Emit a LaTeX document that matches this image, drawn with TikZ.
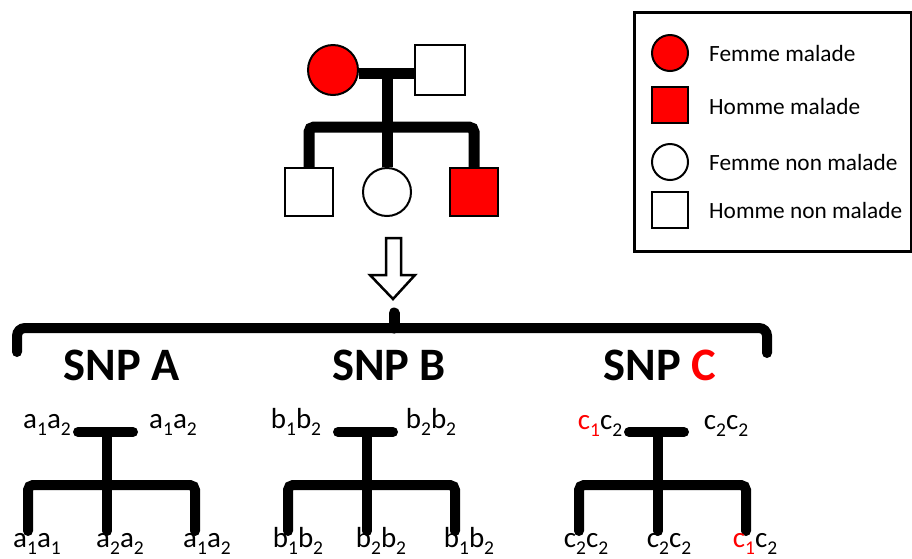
\documentclass[tikz,border=0pt]{standalone}
\usepackage{fontspec}
\setmainfont{Carlito}
\newcommand\sbs[1]{\raisebox{-0.25em}{\fontsize{19.5}{20}\selectfont #1}}
\begin{document}
\begin{tikzpicture}[x=1pt,y=-1pt,
  pedline/.style={line width=11pt,line cap=butt,rounded corners=5pt},
  smline/.style={line width=10pt,line cap=round,rounded corners=5pt},
  fem/.style={circle,draw,line width=2pt,minimum size=48pt,inner sep=0pt},
  mal/.style={rectangle,draw,line width=2pt,minimum size=48pt,inner sep=0pt},
  lfem/.style={circle,draw,line width=2pt,minimum size=36pt,inner sep=0pt},
  lmal/.style={rectangle,draw,line width=2pt,minimum size=36pt,inner sep=0pt},
  ill/.style={fill=red},
  legtext/.style={anchor=base west,inner sep=0pt,font=\fontsize{23.3}{25}\selectfont},
  snp/.style={anchor=base,inner sep=0pt,font=\fontsize{46.5}{48}\selectfont\bfseries},
  geno/.style={anchor=base,inner sep=0pt,font=\fontsize{29}{30}\selectfont}]
\useasboundingbox (0,0) rectangle (912,558);

% ---------- main pedigree ----------
\node[fem,ill,minimum size=50pt] (mother) at (333,70) {};
\node[mal,minimum size=50pt] (father) at (440,70) {};
\node[mal] (kid1) at (309,192) {};
\node[fem] (kid2) at (387,192) {};
\node[mal,ill] (kid3) at (474,192) {};
\coordinate (mm) at (387,73);
\coordinate (sib) at (387,127);
\draw[pedline] ([yshift=-3pt]mother.east) -- ([yshift=-3pt]father.west);
\draw[pedline] (mm) -- (kid2.north);
\draw[pedline] (kid1.north) -- (kid1.north |- sib) -- (kid3.north |- sib) -- (kid3.north);

% ---------- legend ----------
\node[draw,line width=3pt,minimum width=277pt,minimum height=239pt,anchor=north west] (legend) at (633,11) {};
\node[lfem,ill] (l1) at (670,53) {};
\node[lmal,ill] (l2) at (670,105) {};
\node[lfem] (l3) at (670,162) {};
\node[lmal] (l4) at (670,210) {};
\node[legtext] (t1) at (709,61) {Femme malade};
\node[legtext] (t2) at (709,114) {Homme malade};
\node[legtext] (t3) at (709,170) {Femme non malade};
\node[legtext] (t4) at (709,218) {Homme non malade};

% ---------- hollow arrow ----------
\coordinate (arrtip) at (393,299);
\draw[line width=2.5pt,fill=white,line join=miter]
  (386,238) -- (401,238) -- (401,275) -- (415,275) -- (arrtip) -- (370,275) -- (386,275) -- cycle;

% ---------- bracket ----------
\coordinate (brl) at (17,352);
\coordinate (brr) at (767,353);
\coordinate (brm) at (394,313);
\draw[line width=10pt,line cap=round,rounded corners=8pt]
  (brl) -- (17,328) -- (767,328) -- (brr);
\draw[line width=11pt,line cap=round] (394,328) -- (brm);

% ---------- SNP titles ----------
\node[snp] (snpA) at (122,380) {SNP A};
\node[snp] (snpB) at (389,380) {SNP B};
\node[snp] (snpC) at (660,380) {SNP \textcolor{red}{C}};

% ---------- small pedigrees ----------
\foreach \dx/\p in {0/A,260/B,551/C}{
  \begin{scope}[xshift=\dx pt]
    \coordinate (\p l) at (78,432);
    \coordinate (\p r) at (133,432);
    \coordinate (\p m) at (107,432);
    \coordinate (\p s) at (107,485);
    \coordinate (\p a) at (28,531);
    \coordinate (\p b) at (107,531);
    \coordinate (\p c) at (195,531);
    \draw[smline] (\p l) -- (\p r);
    \draw[smline,line cap=butt] (\p m) -- (\p s);
    \draw[smline] (\p s) -- (\p b);
    \draw[smline] (\p a) -- (\p a |- \p s) -- (\p c |- \p s) -- (\p c);
  \end{scope}
}

\node[geno] (gA1) at (47,428) {a\sbs{1}a\sbs{2}};
\node[geno] (gA2) at (173,428) {a\sbs{1}a\sbs{2}};
\node[geno] (gA3) at (37,547) {a\sbs{1}a\sbs{1}};
\node[geno] (gA4) at (120,547) {a\sbs{2}a\sbs{2}};
\node[geno] (gA5) at (207,547) {a\sbs{1}a\sbs{2}};

\node[geno] (gB1) at (296,428) {b\sbs{1}b\sbs{2}};
\node[geno] (gB2) at (431,428) {b\sbs{2}b\sbs{2}};
\node[geno] (gB3) at (298,547) {b\sbs{1}b\sbs{2}};
\node[geno] (gB4) at (381,547) {b\sbs{2}b\sbs{2}};
\node[geno] (gB5) at (469,547) {b\sbs{1}b\sbs{2}};

\node[geno] (gC1) at (600,429) {\textcolor{red}{c\sbs{1}}c\sbs{2}};
\node[geno] (gC2) at (726,429) {c\sbs{2}c\sbs{2}};
\node[geno] (gC3) at (586,547) {c\sbs{2}c\sbs{2}};
\node[geno] (gC4) at (669,547) {c\sbs{2}c\sbs{2}};
\node[geno] (gC5) at (755,547) {\textcolor{red}{c\sbs{1}}c\sbs{2}};
\end{tikzpicture}
\end{document}
